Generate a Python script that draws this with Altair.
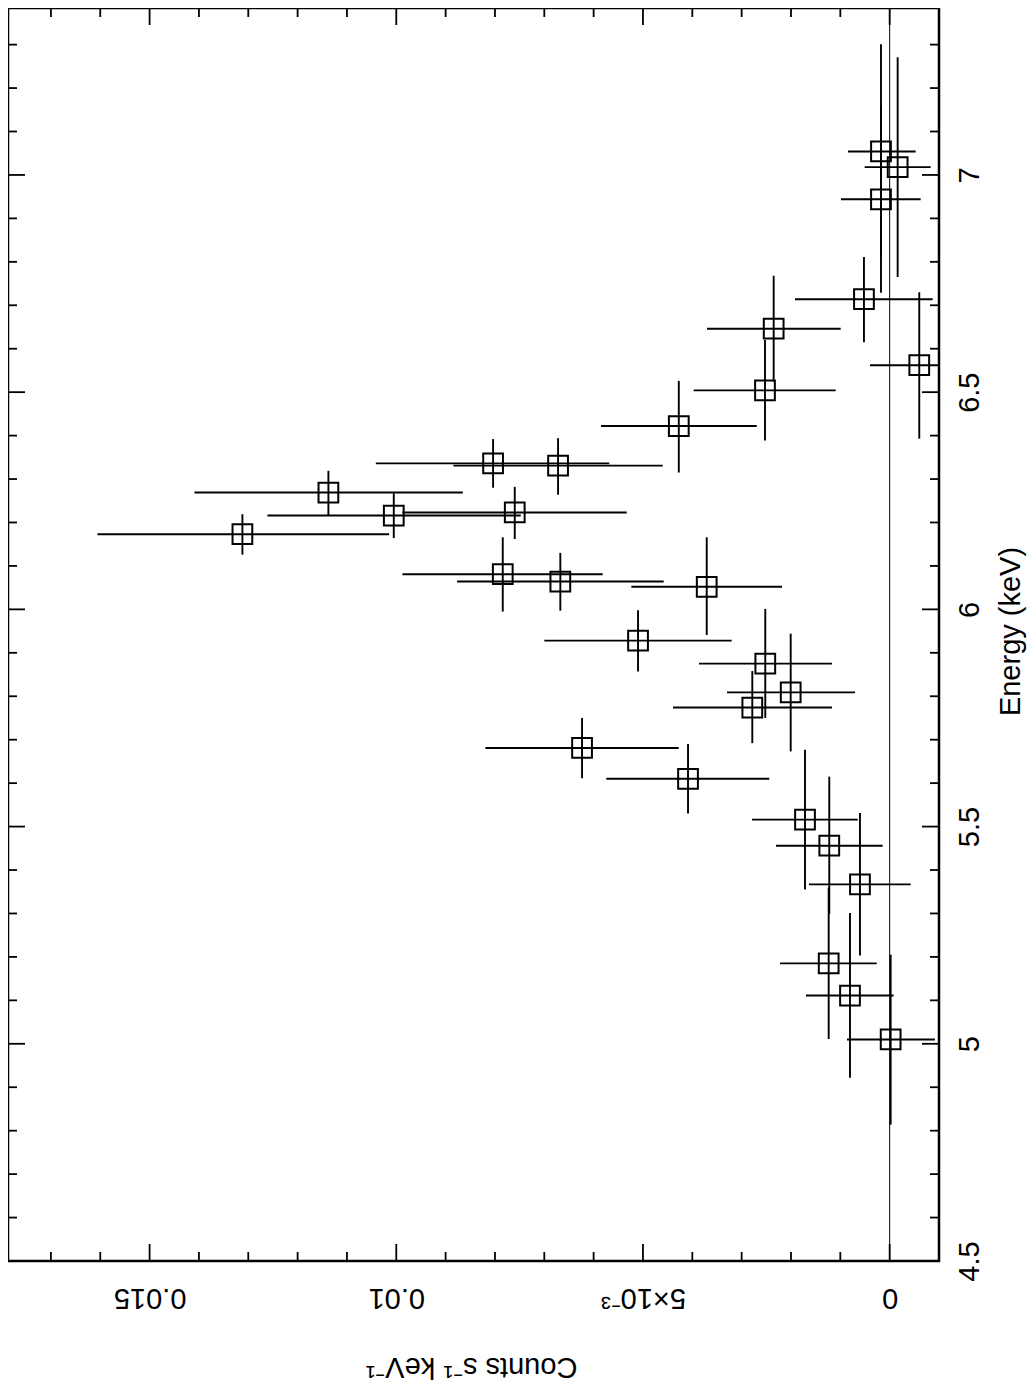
import altair as alt
import pandas as pd

# Spectrum points, energy in keV, rate in counts s^-1 keV^-1
energy = [7.054, 7.018, 6.944, 6.714, 6.646, 6.562, 6.504, 6.422, 6.336, 6.331,
          6.269, 6.223, 6.216, 6.173, 6.081, 6.064, 6.052, 5.928, 5.875, 5.809,
          5.774, 5.681, 5.610, 5.516, 5.456, 5.367, 5.185, 5.111, 5.010]
energy_lo = [6.811, 6.765, 6.729, 6.615, 6.524, 6.393, 6.389, 6.315, 6.280, 6.264,
             6.216, 6.162, 6.164, 6.126, 5.995, 5.997, 5.941, 5.857, 5.750, 5.673,
             5.692, 5.611, 5.530, 5.355, 5.299, 5.203, 5.011, 4.922, 4.814]
energy_hi = [7.301, 7.271, 7.159, 6.811, 6.768, 6.730, 6.620, 6.526, 6.392, 6.394,
             6.319, 6.282, 6.267, 6.219, 6.166, 6.130, 6.166, 5.998, 6.001, 5.944,
             5.858, 5.750, 5.690, 5.677, 5.615, 5.531, 5.360, 5.301, 5.205]
counts = [0.000176, -0.000162, 0.000176, 0.000521, 0.002351, -0.000600, 0.002527,
          0.004274, 0.008038, 0.006721, 0.011376, 0.007599, 0.010051, 0.013119,
          0.007842, 0.006675, 0.003708, 0.005100, 0.002521, 0.002006, 0.002784,
          0.006235, 0.004087, 0.001716, 0.001224, 0.000602, 0.001236, 0.000804,
          -0.000020]
counts_lo = [-0.000527, -0.000831, -0.000628, -0.000871, 0.000993, -0.001600,
             0.001094, 0.002695, 0.005682, 0.004600, 0.008652, 0.005329, 0.007477,
             0.010146, 0.005816, 0.004580, 0.002182, 0.003202, 0.001169, 0.000703,
             0.001169, 0.004276, 0.002440, 0.000648, 0.000142, -0.000426, 0.000263,
             -0.000081, -0.000918]
counts_hi = [0.000845, 0.000507, 0.000987, 0.001919, 0.003702, 0.000399, 0.003972,
             0.005850, 0.010415, 0.008843, 0.014091, 0.009876, 0.012612, 0.016057,
             0.009876, 0.008768, 0.005236, 0.006999, 0.003864, 0.003297, 0.004391,
             0.008195, 0.005743, 0.002790, 0.002304, 0.001635, 0.002223, 0.001696,
             0.000865]

# Axis labels and frame tick positions
count_labels = [0, 0.005, 0.01, 0.015]
count_minor = [0.001, 0.002, 0.003, 0.004, 0.006, 0.007, 0.008, 0.009,
               0.011, 0.012, 0.013, 0.014, 0.016, 0.017]
energy_labels = [4.5, 5, 5.5, 6, 6.5, 7]
energy_major = [5, 5.5, 6, 6.5, 7]
energy_minor = [4.6, 4.7, 4.8, 4.9, 5.1, 5.2, 5.3, 5.4, 5.6, 5.7, 5.8, 5.9,
                6.1, 6.2, 6.3, 6.4, 6.6, 6.7, 6.8, 6.9, 7.1, 7.2, 7.3]

W = 931
H = 1253
FONT = "Liberation Sans"

df = pd.DataFrame({
    "E": energy, "E_lo": energy_lo, "E_hi": energy_hi,
    "c": counts, "c_lo": counts_lo, "c_hi": counts_hi,
})

x_scale = alt.Scale(domain=[-0.001, 0.01787], reverse=True, nice=False, zero=False)
y_scale = alt.Scale(domain=[4.5, 7.3843], nice=False, zero=False)

x_axis = alt.Axis(
    values=count_labels,
    labelExpr="abs(datum.value - 0.005) < 1e-9 ? '5×10⁻³' : format(datum.value, '~g')",
    labelAngle=180, labelAlign="center", labelBaseline="middle", labelPadding=36,
    labelFont=FONT, labelFontSize=29, labelColor="black",
    labelFlush=False, labelOverlap=False,
    ticks=False, tickSize=0, domain=False, grid=False,
    title="Counts s⁻¹ keV⁻¹", titleAngle=180, titleAlign="center",
    titleBaseline="middle", titleX=463, titleY=105,
    titleFont=FONT, titleFontSize=29, titleFontWeight="normal", titleColor="black",
)
y_axis = alt.Axis(
    orient="right", values=energy_labels, format="~g",
    labelAngle=270, labelAlign="center", labelBaseline="middle", labelPadding=30,
    labelFont=FONT, labelFontSize=29, labelColor="black",
    labelFlush=False, labelOverlap=False,
    ticks=False, tickSize=0, domain=False, grid=False,
    title="Energy (keV)", titleAngle=270, titleAlign="center",
    titleBaseline="middle", titleX=71, titleY=623,
    titleFont=FONT, titleFontSize=29, titleFontWeight="normal", titleColor="black",
)

# squares at the data points (carry the axes)
squares = alt.Chart(df).mark_point(
    shape="square", filled=False, size=390, strokeWidth=2, color="black", opacity=1
).encode(
    x=alt.X("c:Q", scale=x_scale, axis=x_axis),
    y=alt.Y("E:Q", scale=y_scale, axis=y_axis),
)

count_bars = alt.Chart(df).mark_rule(strokeWidth=1.9, color="black", clip=True).encode(
    x=alt.X("c_lo:Q", scale=x_scale), x2="c_hi:Q",
    y=alt.Y("E:Q", scale=y_scale),
)
energy_bars = alt.Chart(df).mark_rule(strokeWidth=1.9, color="black", clip=True).encode(
    x=alt.X("c:Q", scale=x_scale),
    y=alt.Y("E_lo:Q", scale=y_scale), y2="E_hi:Q",
)

zero_line = alt.Chart(pd.DataFrame({"c": [0]})).mark_rule(
    strokeWidth=1, color="black"
).encode(x=alt.X("c:Q", scale=x_scale))


def count_ticks(values, length):
    base = alt.Chart(pd.DataFrame({"c": values})).mark_rule(strokeWidth=1.8, color="black")
    bottom = base.encode(x=alt.X("c:Q", scale=x_scale), y=alt.value(H), y2=alt.value(H - length))
    top = base.encode(x=alt.X("c:Q", scale=x_scale), y=alt.value(0), y2=alt.value(length))
    return bottom + top


def energy_ticks(values, length):
    base = alt.Chart(pd.DataFrame({"E": values})).mark_rule(strokeWidth=1.8, color="black")
    right = base.encode(y=alt.Y("E:Q", scale=y_scale), x=alt.value(W), x2=alt.value(W - length))
    left = base.encode(y=alt.Y("E:Q", scale=y_scale), x=alt.value(0), x2=alt.value(length))
    return right + left


chart = (
    alt.layer(
        squares,
        zero_line,
        count_bars,
        energy_bars,
        count_ticks(count_minor, 9),
        count_ticks(count_labels, 17),
        energy_ticks(energy_minor, 9),
        energy_ticks(energy_major, 17),
    )
    .properties(
        width=W,
        height=H,
        autosize=alt.AutoSizeParams(type="none"),
        padding={"left": 0, "top": 0, "right": 88, "bottom": 121},
        background="white",
    )
    .configure_view(stroke="black", strokeWidth=2.5)
)

chart.save("out.html", embed_options={"renderer": "svg", "actions": False})
